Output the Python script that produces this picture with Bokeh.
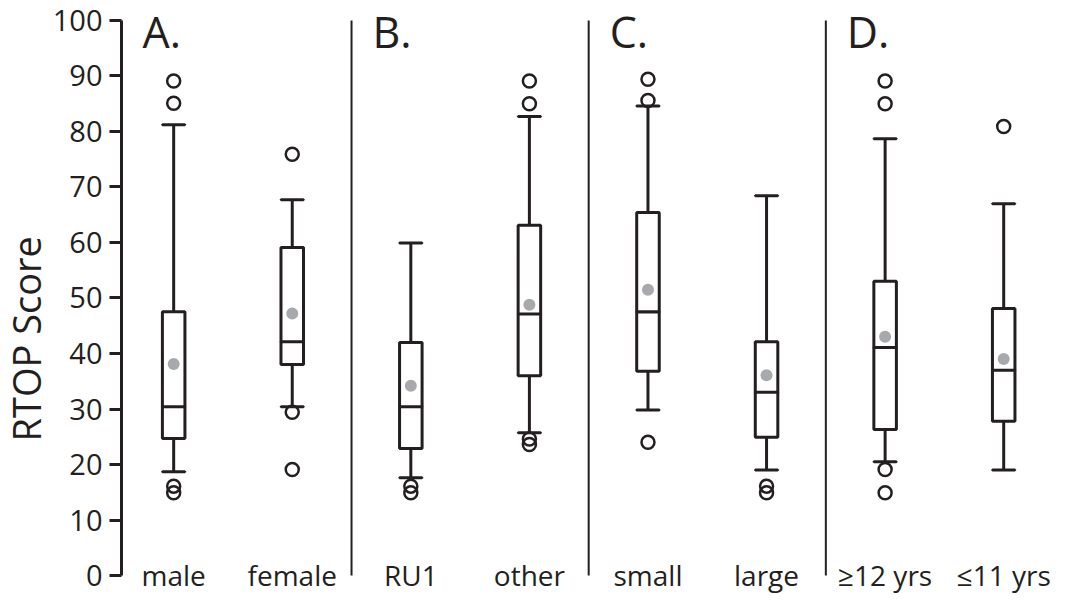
import numpy as np
from bokeh.plotting import figure
from bokeh.models import Range1d, FixedTicker, ColumnDataSource, Title
from bokeh.core.properties import value
from bokeh.embed import file_html
from bokeh.resources import INLINE

# ---------------- data ----------------
categories = ["male", "female", "RU1", "other", "small", "large", "\u226512 yrs", "\u226411 yrs"]
panels = ["A.", "B.", "C.", "D."]
lower_whisker = [18.7, 30.4, 17.6, 25.7, 29.8, 19.0, 20.5, 19.0]
q1 = [24.7, 38.0, 22.9, 36.0, 36.8, 24.9, 26.3, 27.8]
median = [30.4, 42.1, 30.4, 47.1, 47.5, 33.0, 41.1, 37.0]
q3 = [47.5, 59.1, 42.0, 63.1, 65.4, 42.1, 53.0, 48.1]
upper_whisker = [81.2, 67.7, 59.9, 82.7, 84.6, 68.4, 78.7, 67.0]
mean = [38.1, 47.2, 34.2, 48.8, 51.5, 36.1, 43.0, 39.0]
outliers = [
    [89.1, 85.1, 16.1, 14.9],
    [75.9, 29.4, 19.1],
    [16.1, 14.9],
    [89.1, 85.0, 24.6, 23.6],
    [89.4, 85.6, 24.0],
    [16.1, 14.9],
    [89.1, 85.0, 19.1, 14.9],
    [80.9],
]
y_ticks = list(range(0, 101, 10))

# ---------------- style ----------------
INK = "#231f20"
GREY = "#a7a9ac"
FONT = "Open Sans"
BOX_W = 0.19

xs = np.arange(1, len(categories) + 1)
X_LEFT, X_RIGHT = 0.56, 8.42
seps = [(xs[i] + xs[i + 1]) / 2 for i in (1, 3, 5)]

p = figure(width=1053, height=593, output_backend="svg", toolbar_location=None,
           x_range=Range1d(X_LEFT, X_RIGHT), y_range=Range1d(-3.24, 103.60),
           min_border_left=117, min_border_right=0, min_border_top=0, min_border_bottom=0)
p.outline_line_color = None
p.grid.visible = False
p.xaxis.visible = False
p.background_fill_color = "white"
p.border_fill_color = "white"

ya = p.yaxis[0]
ya.ticker = FixedTicker(ticks=y_ticks)
ya.bounds = (0, 100)
ya.axis_line_width = 3
ya.axis_line_color = INK
ya.major_tick_line_width = 3
ya.major_tick_line_color = INK
ya.major_tick_out = 12
ya.major_tick_in = 0
ya.minor_tick_line_color = None
ya.major_label_text_font = FONT
ya.major_label_text_font_size = "29px"
ya.major_label_text_color = INK
ya.major_label_standoff = 7

# y-axis title (as a left title so it can be shifted along the axis)
p.add_layout(Title(text="RTOP Score", align="left", offset=152, standoff=-5,
                   text_font=FONT, text_font_size="38px", text_font_style="normal",
                   text_color=INK), "left")

# separators
p.segment(x0=seps, y0=0, x1=seps, y1=100, line_color=INK, line_width=2)

src = ColumnDataSource(dict(x=xs, lw=lower_whisker, q1=q1, med=median, q3=q3,
                            uw=upper_whisker, mean=mean))
# whiskers
p.segment(x0="x", y0="lw", x1="x", y1="q1", source=src, line_color=INK, line_width=3)
p.segment(x0="x", y0="q3", x1="x", y1="uw", source=src, line_color=INK, line_width=3)
# caps
p.rect(x="x", y="lw", width=BOX_W, height=0.0001, source=src, fill_color=None,
       line_color=INK, line_width=3)
p.rect(x="x", y="uw", width=BOX_W, height=0.0001, source=src, fill_color=None,
       line_color=INK, line_width=3)
# boxes
p.vbar(x="x", width=BOX_W, bottom="q1", top="q3", source=src, fill_color="white",
       line_color=INK, line_width=3)
# medians
p.rect(x="x", y="med", width=BOX_W, height=0.0001, source=src, fill_color=None,
       line_color=INK, line_width=3)
# means
p.scatter(x="x", y="mean", source=src, marker="circle", size=12, fill_color=GREY,
          line_color=None)
# outliers
ox = [xs[i] for i, lst in enumerate(outliers) for _ in lst]
oy = [v for lst in outliers for v in lst]
p.scatter(x=ox, y=oy, marker="circle", size=13, fill_color=None, line_color=INK,
          line_width=2.5)

# category labels
p.text(x=xs, y=[0.18] * len(xs), text=categories, text_align="center",
       text_baseline="alphabetic", text_font=value(FONT), text_font_size="28px",
       text_color=INK)

# panel labels
p.text(x=[X_LEFT] + seps, y=[98.10] * 4, text=panels, x_offset=21, text_align="left",
       text_baseline="alphabetic", text_font=value(FONT), text_font_size="43px",
       text_color=INK)

open("out.html", "w").write(file_html(p, INLINE))
